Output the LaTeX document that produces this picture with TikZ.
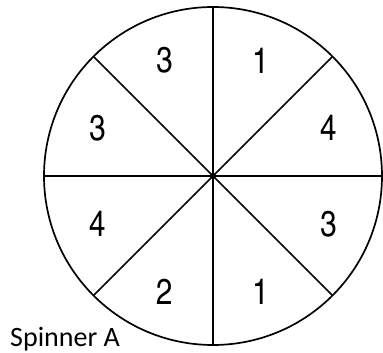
\documentclass[tikz,border=0pt]{standalone}
\usepackage{fontspec}
\setmainfont{Liberation Sans}
\newfontfamily\numfont{texgyreheroscn-regular.otf}
\newfontfamily\capfont{Carlito}
\usetikzlibrary{calc}

\begin{document}
\begin{tikzpicture}[
  x=1pt, y=1pt,
  rim/.style={draw=black, line width=1.7pt},
  spoke/.style={draw=black, line width=1.7pt},
  num/.style={font=\numfont\fontsize{36}{36}\selectfont, inner sep=0pt},
  captext/.style={font=\capfont\fontsize{28}{28}\selectfont, inner sep=0pt}
]
\useasboundingbox (0,0) rectangle (383,353);
\coordinate (c) at (213,177);
\draw[rim] (c) circle[radius=169];
% the eight spokes
\foreach \a in {0,45,...,315}
  \draw[spoke] (c) -- ($(c)+(\a:169)$);
\fill[black] (c) circle[radius=3.2];
% sector values
\foreach \a/\v [count=\i] in {67.5/1, 22.5/4, -22.5/3, -67.5/1, -112.5/2, -157.5/4, 157.5/3, 112.5/3}
  \node[num] (n\i) at ($(c)+(\a:125)$) {\v};
\node[captext, anchor=base west] (lbl) at (10,6) {Spinner A};
\end{tikzpicture}
\end{document}
